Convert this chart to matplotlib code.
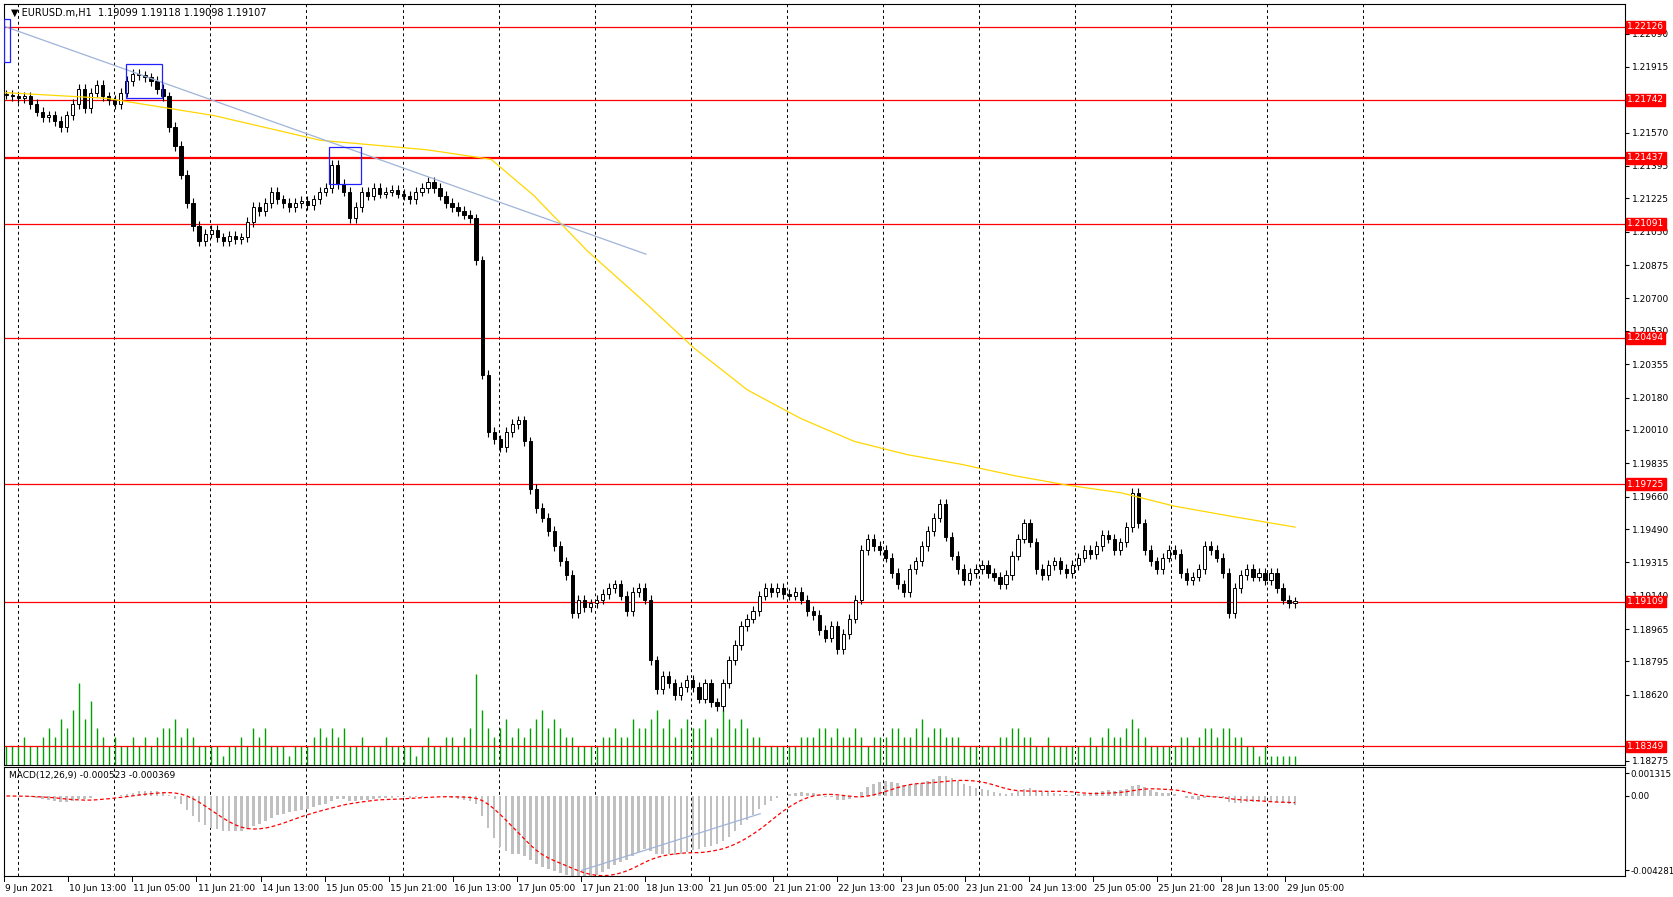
import matplotlib
matplotlib.use("Agg")
import matplotlib.pyplot as plt
import numpy as np
from matplotlib.patches import Rectangle

closes = [1.2177, 1.2176,
 1.2175, 1.2176, 1.2172, 1.2168, 1.2165, 1.2166, 1.2163, 1.2160, 1.2166, 1.2172, 1.2180, 1.2170, 1.2178, 1.2182, 1.2176, 1.2174,
 1.2172, 1.2178, 1.2184, 1.2188, 1.2187, 1.2186, 1.2184, 1.2180, 1.2176, 1.2160, 1.2150, 1.2135, 1.2120, 1.2108, 1.2100, 1.2104,
 1.2106, 1.2102, 1.2100, 1.2103, 1.2101, 1.2102, 1.2110, 1.2118, 1.2116, 1.2120, 1.2126, 1.2122, 1.2120, 1.2118, 1.2120, 1.2121,
 1.2119, 1.2122, 1.2126, 1.2128, 1.2140, 1.2130, 1.2126, 1.2112, 1.2118, 1.2126, 1.2124, 1.2128, 1.2125, 1.2126, 1.2127, 1.2125,
 1.2124, 1.2122, 1.2126, 1.2128, 1.2131, 1.2128, 1.2124, 1.2120, 1.2118, 1.2116, 1.2114, 1.2112, 1.2090, 1.2030, 1.2000, 1.1996,
 1.1992, 1.2000, 1.2004, 1.2006, 1.1995, 1.1970, 1.1960, 1.1955, 1.1948, 1.1940, 1.1932, 1.1925, 1.1905, 1.1912, 1.1908, 1.1910,
 1.1912, 1.1915, 1.1918, 1.1920, 1.1914, 1.1906, 1.1916, 1.1918, 1.1912, 1.1880, 1.1865, 1.1872, 1.1868, 1.1862, 1.1866, 1.1870,
 1.1866, 1.1860, 1.1868, 1.1858, 1.1856, 1.1868, 1.1880, 1.1888, 1.1898, 1.1902, 1.1906, 1.1914, 1.1918, 1.1916, 1.1918, 1.1915,
 1.1914, 1.1916, 1.1912, 1.1906, 1.1904, 1.1896, 1.1892, 1.1898, 1.1886, 1.1894, 1.1902, 1.1912, 1.1938, 1.1944, 1.1940, 1.1938,
 1.1934, 1.1926, 1.1920, 1.1916, 1.1928, 1.1932, 1.1940, 1.1948, 1.1955, 1.1962, 1.1945, 1.1935, 1.1928, 1.1922, 1.1926, 1.1928,
 1.1930, 1.1926, 1.1924, 1.1920, 1.1925, 1.1935, 1.1944, 1.1952, 1.1942, 1.1928, 1.1925, 1.1930, 1.1932, 1.1928, 1.1926, 1.1930,
 1.1934, 1.1938, 1.1936, 1.1940, 1.1946, 1.1944, 1.1938, 1.1942, 1.1950, 1.1968, 1.1952, 1.1938, 1.1932, 1.1928, 1.1934, 1.1938,
 1.1936, 1.1926, 1.1922, 1.1924, 1.1928, 1.1940, 1.1938, 1.1934, 1.1926, 1.1905, 1.1918, 1.1925, 1.1928, 1.1924, 1.1926, 1.1922,
 1.1926, 1.1918, 1.1912, 1.1910, 1.1911]

volumes = [2, 2,
 2,3,2,2,3,4,3,5,4,6,9,5,7,4,3,2,
 3,2,2,3,2,3,2,3,4,4,5,3,4,3,2,2,
 2,2,1,2,2,3,2,4,3,4,2,2,2,1,2,2,
 2,3,4,3,4,3,4,2,2,3,2,2,2,3,2,2,
 2,2,1,2,3,2,2,3,3,2,3,4,10,6,4,3,
 4,5,3,4,3,4,5,6,4,5,4,3,3,2,2,2,
 2,3,3,4,3,3,5,4,4,5,6,4,5,3,4,5,
 4,4,5,3,4,6,5,4,5,4,3,3,2,2,2,2,
 2,2,3,3,3,4,4,3,4,3,3,4,3,2,3,3,
 3,4,4,3,3,4,5,3,4,4,3,3,3,2,2,2,
 2,2,2,3,3,4,4,3,3,2,2,3,2,2,2,2,
 2,2,3,2,3,4,3,3,4,5,4,3,2,2,2,2,
 2,3,3,2,3,4,4,3,4,4,3,3,2,2,1,2,
 1,1,1,1,1]

ma_x = [5, 100, 200, 300, 400, 460, 500, 550, 600, 650, 700, 750, 800, 850, 900, 950, 1000, 1050, 1100, 1150, 1213]
ma_y = [1.2178, 1.2175, 1.2166, 1.2153, 1.2148, 1.2143, 1.2124, 1.2095, 1.2070, 1.2044, 1.2022, 1.2007,
        1.1995, 1.1988, 1.1983, 1.1977, 1.1972, 1.1968, 1.1961, 1.1956, 1.1950]

levels = [1.22126, 1.21742, 1.21437, 1.21091, 1.20494, 1.19725, 1.19109, 1.18349]
yticks = [1.22090, 1.21915, 1.21570, 1.21395, 1.21225, 1.21050, 1.20875, 1.20700, 1.20530, 1.20355,
          1.20180, 1.20010, 1.19835, 1.19660, 1.19490, 1.19315, 1.19140, 1.18965, 1.18795, 1.18620, 1.18275]
date_labels = ["9 Jun 2021", "10 Jun 13:00", "11 Jun 05:00", "11 Jun 21:00", "14 Jun 13:00", "15 Jun 05:00",
               "15 Jun 21:00", "16 Jun 13:00", "17 Jun 05:00", "17 Jun 21:00", "18 Jun 13:00", "21 Jun 05:00",
               "21 Jun 21:00", "22 Jun 13:00", "23 Jun 05:00", "23 Jun 21:00", "24 Jun 13:00", "25 Jun 05:00",
               "25 Jun 21:00", "28 Jun 13:00", "29 Jun 05:00"]

W, H = 1567.0, 840.0
def py(y):
    return 1.22126 - (y - 25) / 17845.0

fig = plt.figure(figsize=(16.73, 8.97), dpi=100)
ax = fig.add_axes([4/W, 1-716/H, 1518/W, 712/H])
ax.set_xlim(4, 1522)
ax.set_ylim(py(716), py(4))

N = len(closes)
xs = 6 + np.arange(N) * (1207.0 / (N - 1))
opens = [closes[0]] + closes[:-1]
for x, o, c in zip(xs, opens, closes):
    hi = max(o, c) + 0.00025
    lo = min(o, c) - 0.00025
    ax.vlines(x, lo, hi, color='black', lw=0.8, zorder=3)
    bot = min(o, c); h = max(abs(c - o), 0.00003)
    ax.bar(x, h, bottom=bot, width=3.0, facecolor='white' if c >= o else 'black',
           edgecolor='black', lw=0.7, zorder=4)

vscale = 8.5 / 17845.0
ax.vlines(xs, py(716), py(716) + np.array(volumes) * vscale, color='#00A000', lw=1.0, zorder=2)

for gx in range(17, 1300, 90):
    ax.axvline(gx, color='black', ls=(0, (3, 3)), lw=0.7, zorder=1)

for i, lv in enumerate(levels):
    ax.axhline(lv, color='red', lw=1.6 if i == 2 else 0.9, zorder=2)
    ax.text(1524, lv, f"{lv:.5f}", transform=ax.transData, fontsize=6.5, color='white',
            va='center', ha='left', clip_on=False, zorder=10,
            bbox=dict(boxstyle='square,pad=0.15', fc='red', ec='red'))

ax.plot(ma_x, ma_y, color='#FFD700', lw=0.9, zorder=5)
ax.plot([5, 605], [py(25), py(238)], color='#A0B4D8', lw=0.9, zorder=5)
for (x0, y0, x1, y1) in [(118, 60, 152, 92), (308, 138, 338, 172), (4, 18, 9, 58)]:
    ax.add_patch(Rectangle((x0, py(y1)), x1 - x0, py(y0) - py(y1), fill=False, ec='#2020FF', lw=0.9, zorder=6))

ax.yaxis.tick_right()
ax.set_yticks(yticks)
ax.set_yticklabels([f"{t:.5f}" for t in yticks], fontsize=6.5)
ax.tick_params(axis='y', length=3, pad=2)
ax.set_xticks([])
ax.text(0.004, 0.995, "\u25bc EURUSD.m,H1  1.19099 1.19118 1.19098 1.19107", transform=ax.transAxes,
        fontsize=7, va='top', ha='left')

closes_a = np.array(closes)
def ema(a, n):
    k = 2 / (n + 1); out = np.empty_like(a); out[0] = a[0]
    for i in range(1, len(a)):
        out[i] = out[i-1] + k * (a[i] - out[i-1])
    return out
macd = ema(closes_a, 12) - ema(closes_a, 26)
sig = np.array([macd[max(0, i-8):i+1].mean() for i in range(N)])

m0 = 0.001315; m1 = -0.004281
per = (m0 - m1) / (815 - 724)
ax2 = fig.add_axes([4/W, 1-820/H, 1518/W, 102/H])
ax2.set_xlim(4, 1522)
ax2.set_ylim(m0 - (820 - 724) * per, m0 + (724 - 718) * per)
ax2.bar(xs, macd, width=2.4, color='#C0C0C0', zorder=2)
ax2.plot(xs, sig, color='red', ls=(0, (3, 2)), lw=0.9, zorder=3)
ax2.plot([545, 712], [m1, m1 + (815 - 762) * per], color='#A0B4D8', lw=0.9)
for gx in range(17, 1300, 90):
    ax2.axvline(gx, color='black', ls=(0, (3, 3)), lw=0.7, zorder=1)
ax2.yaxis.tick_right()
ax2.set_yticks([m0, 0.0, m1])
ax2.set_yticklabels(["0.001315", "0.00", "-0.004281"], fontsize=6.2)
ax2.tick_params(axis='y', length=3, pad=1)
ax2.set_xticks([])
ax2.text(0.003, 0.96, "MACD(12,26,9) -0.000523 -0.000369", transform=ax2.transAxes,
         fontsize=6.5, va='top', ha='left')

for j, lab in enumerate(date_labels):
    x = 4 + 60 * j
    fig.text((x + 1) / W, 1 - 832 / H, lab, fontsize=6.5, ha='left', va='center')
    fig.add_artist(plt.Line2D([x / W, x / W], [1 - 820 / H, 1 - 825 / H], color='black', lw=0.7))

fig.savefig("out.png", dpi=100)
